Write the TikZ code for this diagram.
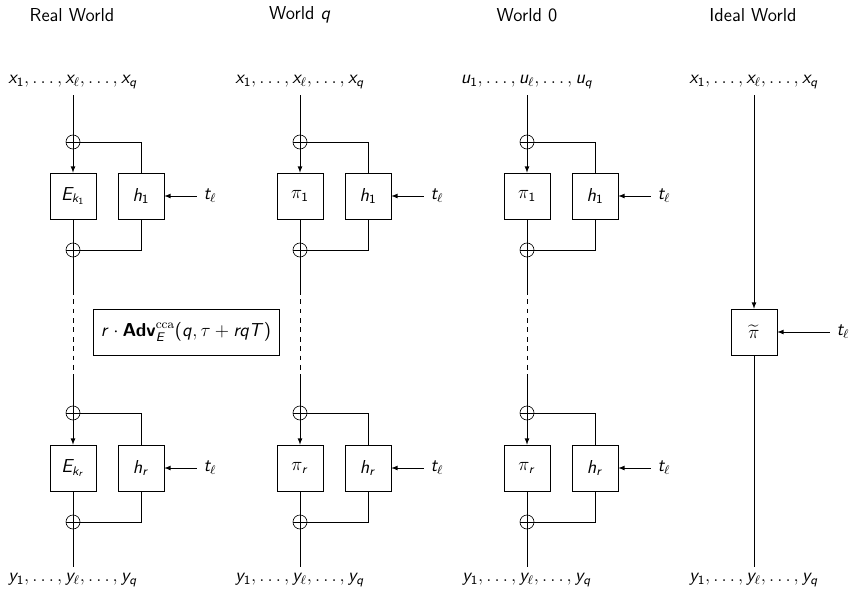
\documentclass[tikz,border=0pt,12pt]{standalone}
\usepackage{amsmath}
\renewcommand{\familydefault}{\sfdefault}
\DeclareSymbolFont{operators}{OT1}{cmss}{m}{n}
\DeclareSymbolFont{sfletters}{OT1}{cmss}{m}{sl}
\DeclareMathSymbol{x}{\mathalpha}{sfletters}{`x}
\DeclareMathSymbol{u}{\mathalpha}{sfletters}{`u}
\DeclareMathSymbol{y}{\mathalpha}{sfletters}{`y}
\DeclareMathSymbol{q}{\mathalpha}{sfletters}{`q}
\DeclareMathSymbol{E}{\mathalpha}{sfletters}{`E}
\DeclareMathSymbol{k}{\mathalpha}{sfletters}{`k}
\DeclareMathSymbol{h}{\mathalpha}{sfletters}{`h}
\DeclareMathSymbol{r}{\mathalpha}{sfletters}{`r}
\DeclareMathSymbol{t}{\mathalpha}{sfletters}{`t}
\DeclareMathSymbol{T}{\mathalpha}{sfletters}{`T}

\begin{document}
\begin{tikzpicture}[x=0.0225cm,y=-0.0225cm,>=latex,
		blk/.style={draw,minimum size=1.035cm,inner sep=0pt},
		xor/.style={draw,circle,minimum size=0.315cm,inner sep=0pt,
			path picture={\draw (path picture bounding box.north) -- (path picture bounding box.south)
				(path picture bounding box.west) -- (path picture bounding box.east);}}]
		\useasboundingbox (0,0) rectangle (853,589);
		\node (tr) at (72,15) {Real World};
		\node (tq) at (300,15) {World $q$};
		\node (tz) at (527,15) {World $0$};
		\node (ti) at (753,15) {Ideal World};

		\foreach \w/\cx/\v/\fa/\fb in {r/73/x/E_{k_1}/E_{k_r}, q/300/x/\pi_1/\pi_r, z/527/u/\pi_1/\pi_r} {
		\node (\w-in) at (\cx,82) {$\v_1,\ldots,\v_\ell,\ldots,\v_q$};
		\node[xor] (\w-xa) at (\cx,142) {};
		\node[blk] (\w-fa) at (\cx,196) {$\fa$};
		\node[blk] (\w-ha) at (\cx+68,196) {$h_1$};
		\node (\w-ta) at (\cx+137,196) {$t_\ell$};
		\node[xor] (\w-xb) at (\cx,250) {};
		\coordinate (\w-da) at (\cx,290); \coordinate (\w-db) at (\cx,377);
		\node[xor] (\w-xc) at (\cx,413) {};
		\node[blk] (\w-fb) at (\cx,468) {$\fb$};
		\node[blk] (\w-hb) at (\cx+68,468) {$h_r$};
		\node (\w-tb) at (\cx+137,468) {$t_\ell$};
		\node[xor] (\w-xd) at (\cx,522) {};
		\node (\w-out) at (\cx,580) {$y_1,\ldots,y_\ell,\ldots,y_q$};

		\draw (\w-in) -- (\w-xa); \draw[->] (\w-xa) -- (\w-fa);
		\draw (\w-xa) -| (\w-ha); \draw (\w-ha) |- (\w-xb); \draw[<-] (\w-ha) -- (\w-ta);
		\draw (\w-fa) -- (\w-xb); \draw (\w-xb) -- (\w-da);
		\draw[dashed] (\w-da) -- (\w-db); \draw (\w-db) -- (\w-xc);
		\draw[->] (\w-xc) -- (\w-fb);
		\draw (\w-xc) -| (\w-hb); \draw (\w-hb) |- (\w-xd); \draw[<-] (\w-hb) -- (\w-tb);
		\draw (\w-fb) -- (\w-xd); \draw (\w-xd) -- (\w-out);
		}

		\node[draw,minimum width=4.185cm,minimum height=1.035cm] (adv) at (186,332)
			{$r\cdot\mbox{\bfseries Adv}^{\text{\rmfamily cca}}_E(q,\tau+rqT)$};

		\node (i-in) at (754,82) {$x_1,\ldots,x_\ell,\ldots,x_q$};
		\node[blk] (i-p) at (754,332) {$\widetilde{\pi}$};
		\node (i-t) at (843,332) {$t_\ell$};
		\node (i-out) at (754,580) {$y_1,\ldots,y_\ell,\ldots,y_q$};
		\draw[->] (i-in) -- (i-p); \draw (i-p) -- (i-out); \draw[<-] (i-p) -- (i-t);
\end{tikzpicture}
\end{document}
